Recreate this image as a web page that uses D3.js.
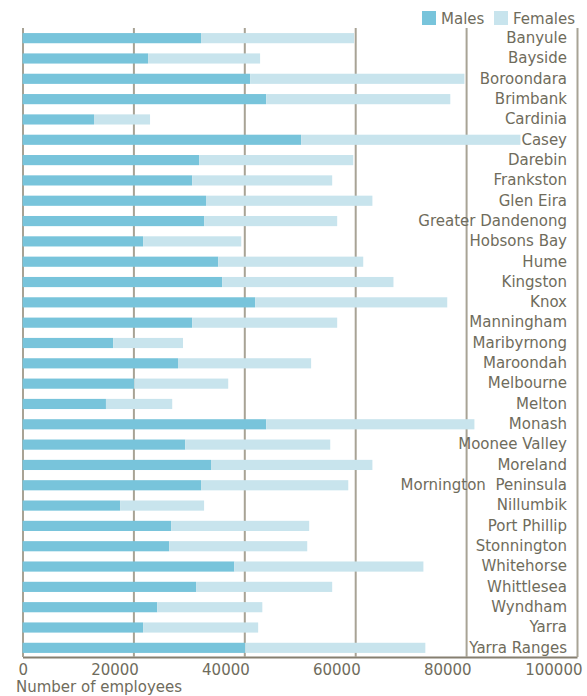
<!DOCTYPE html>
<html>
<head>
<meta charset="utf-8">
<script src="https://cdn.jsdelivr.net/npm/d3@7"></script>
<style>
  body { margin: 0; background: #fff; }
  text { font-family: "DejaVu Sans", sans-serif; fill: #6f6c5c; }
</style>
</head>
<body>
<div id="chart"></div>
<script>
// council areas, top to bottom
var areas = ["Banyule", "Bayside", "Boroondara", "Brimbank", "Cardinia", "Casey", "Darebin",
  "Frankston", "Glen Eira", "Greater Dandenong", "Hobsons Bay", "Hume", "Kingston", "Knox",
  "Manningham", "Maribyrnong", "Maroondah", "Melbourne", "Melton", "Monash", "Moonee Valley",
  "Moreland", "Mornington  Peninsula", "Nillumbik", "Port Phillip", "Stonnington", "Whitehorse",
  "Whittlesea", "Wyndham", "Yarra", "Yarra Ranges"];

var males = [32200, 22650, 41050, 43950, 12900, 50250, 31850,
  30600, 33100, 32750, 21750, 35300, 36000, 41950,
  30600, 16350, 28050, 20150, 15050, 43950, 29350,
  34000, 32200, 17600, 26800, 26450, 38200,
  31300, 24300, 21750, 40150];

var females = [27600, 20200, 38650, 33200, 10100, 39550, 27800,
  25250, 30000, 24000, 17700, 26150, 30900, 34650,
  26150, 12600, 24000, 16950, 11950, 37550, 26150,
  29100, 26550, 15150, 24900, 24900, 34100,
  24550, 18950, 20750, 32500];

var xTicks = [0, 20000, 40000, 60000, 80000, 100000];
var seriesNames = ["Males", "Females"];
var seriesColors = ["#78c4db", "#c8e4ed"];

var W = 587, H = 696;
var plotLeft = 22.5, plotRight = 577, plotTop = 28, plotBottom = 657;

var svg = d3.select("#chart").append("svg")
  .attr("width", W)
  .attr("height", H);

var x = d3.scaleLinear()
  .domain([0, 100000])
  .range([plotLeft, plotRight]);

var y = d3.scaleBand()
  .domain(areas)
  .range([plotTop, plotBottom + 1])
  .paddingInner(0.5)
  .paddingOuter(0.25);

// stacked rows
var rows = areas.map(function(a, i) {
  return { area: a, Males: males[i], Females: females[i] };
});
var stack = d3.stack().keys(seriesNames)(rows);

// x axis with full height gridlines
var xAxis = svg.append("g")
  .attr("transform", "translate(0," + plotBottom + ")")
  .call(d3.axisBottom(x)
    .tickValues(xTicks)
    .tickFormat(d3.format("d"))
    .tickSizeInner(-(plotBottom - plotTop))
    .tickSizeOuter(0)
    .tickPadding(0));

xAxis.select(".domain").attr("stroke", "#857f70").attr("stroke-width", 2);
xAxis.selectAll(".tick line").attr("stroke", "#a8a395").attr("stroke-width", 2);
xAxis.selectAll(".tick text")
  .attr("y", 18)
  .attr("dx", 5)
  .attr("dy", 0)
  .style("text-anchor", "end")
  .style("font-size", "15px")
  .style("font-family", "DejaVu Sans")
  .attr("fill", "#6f6c5c");

// bars
svg.append("g").selectAll("g")
  .data(stack)
  .enter().append("g")
    .attr("fill", function(d, i) { return seriesColors[i]; })
  .selectAll("rect")
  .data(function(d) { return d; })
  .enter().append("rect")
    .attr("x", function(d) { return x(d[0]); })
    .attr("width", function(d) { return x(d[1]) - x(d[0]); })
    .attr("y", function(d) { return y(d.data.area); })
    .attr("height", y.bandwidth());

// category labels inside the plot, right aligned
var yAxis = svg.append("g")
  .attr("transform", "translate(567,0)")
  .call(d3.axisRight(y).tickSize(0).tickPadding(0));
yAxis.select(".domain").remove();
yAxis.selectAll(".tick text")
  .style("text-anchor", "end")
  .style("white-space", "pre")
  .style("font-size", "15px")
  .style("font-family", "DejaVu Sans")
  .attr("fill", "#6f6c5c");

// axis title
svg.append("text")
  .attr("x", 16)
  .attr("y", 692)
  .style("font-size", "15px")
  .text("Number of employees");

// legend
var legend = svg.append("g");
var legendX = [422, 494];
seriesNames.forEach(function(name, i) {
  legend.append("rect")
    .attr("x", legendX[i]).attr("y", 11)
    .attr("width", 14).attr("height", 14)
    .attr("fill", seriesColors[i]);
  legend.append("text")
    .attr("x", legendX[i] + 19).attr("y", 24)
    .style("font-size", "15px")
    .text(name);
});
</script>
</body>
</html>
